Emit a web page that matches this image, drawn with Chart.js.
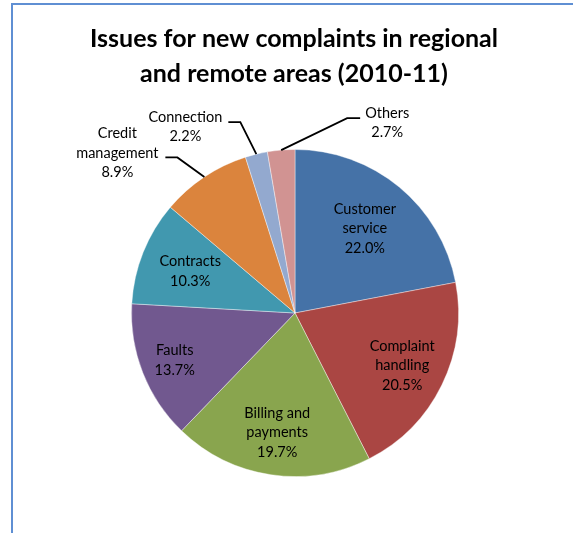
<!DOCTYPE html>
<html>
<head>
<meta charset="utf-8">
<script src="https://cdn.jsdelivr.net/npm/chart.js@4"></script>
<style>
  html, body { margin: 0; padding: 0; background: #fff; overflow: hidden; }
  #wrap { position: relative; width: 573px; height: 533px; }
  #frame { position: absolute; left: 11px; top: 3px; width: 700px; height: 700px;
           border-left: 2px solid #5F8FD3; border-top: 2px solid #5F8FD3; pointer-events: none; }
  canvas { position: absolute; left: 0; top: 0; }
</style>
</head>
<body>
<div id="wrap">
  <canvas id="c" width="573" height="533"></canvas>
  <div id="frame"></div>
</div>
<script>
// ---- data ----
const titleLines = ["Issues for new complaints in regional", "and remote areas (2010-11)"];
const categories = [
  ["Customer", "service"],
  ["Complaint", "handling"],
  ["Billing and", "payments"],
  ["Faults"],
  ["Contracts"],
  ["Credit", "management"],
  ["Connection"],
  ["Others"]
];
const values = [22.0, 20.5, 19.7, 13.7, 10.3, 8.9, 2.2, 2.7];
const colors = ["#4572A7", "#AA4643", "#89A54E", "#71588F", "#4198AF", "#DB843D", "#93A9CF", "#D19392"];

// ---- label layout (styling only) ----
const labelFont = "14.5px Lato, 'Open Sans', sans-serif";
const labelLineHeight = 19.5;
// inside labels: radial factor of outer radius
const insideFactor = {0: 0.67, 1: 0.73, 2: 0.74, 3: 0.79, 4: 0.69};
// outside labels: offsets relative to slice edge point at mid angle
const outside = {
  5: {elbow: [-27, -19.5], end: [-39, -19.5], text: [-87, -43.5]},
  6: {elbow: [-16, -32], end: [-28, -32], text: [-71, -37]},
  7: {elbow: [66, -32], end: [79, -32], text: [106, -37]}
};

const labelPlugin = {
  id: 'sliceLabels',
  afterDatasetsDraw(chart) {
    const ctx = chart.ctx;
    const meta = chart.getDatasetMeta(0);
    const ds = chart.data.datasets[0];
    ctx.save();
    ctx.font = labelFont;
    ctx.fillStyle = '#000';
    ctx.textAlign = 'center';
    ctx.textBaseline = 'middle';
    meta.data.forEach((arc, i) => {
      const p = arc.getProps(['x', 'y', 'startAngle', 'endAngle', 'outerRadius'], true);
      const mid = (p.startAngle + p.endAngle) / 2;
      const lines = chart.data.labels[i].concat([ds.data[i].toFixed(1) + '%']);
      if (outside[i]) {
        const o = outside[i];
        const ex = p.x + Math.cos(mid) * p.outerRadius;
        const ey = p.y + Math.sin(mid) * p.outerRadius;
        ctx.beginPath();
        ctx.strokeStyle = '#000';
        ctx.lineWidth = 1.8;
        ctx.moveTo(ex, ey);
        ctx.lineTo(ex + o.elbow[0], ey + o.elbow[1]);
        ctx.lineTo(ex + o.end[0], ey + o.end[1]);
        ctx.stroke();
        const tx = ex + o.text[0];
        const ty = ey + o.text[1];
        lines.forEach((ln, k) => ctx.fillText(ln, tx, ty + k * labelLineHeight));
      } else {
        const f = insideFactor[i] || 0.7;
        const cx = p.x + Math.cos(mid) * p.outerRadius * f;
        const cy = p.y + Math.sin(mid) * p.outerRadius * f;
        const top = cy - (lines.length - 1) * labelLineHeight / 2;
        lines.forEach((ln, k) => ctx.fillText(ln, cx, top + k * labelLineHeight));
      }
    });
    ctx.restore();
  }
};

const titlePlugin = {
  id: 'titleText',
  afterDraw(chart) {
    const ctx = chart.ctx;
    ctx.save();
    ctx.font = "bold 25px Lato, 'Open Sans', sans-serif";
    ctx.fillStyle = '#000';
    ctx.textAlign = 'center';
    ctx.textBaseline = 'alphabetic';
    ctx.fillText(titleLines[0], 294, 47);
    ctx.fillText(titleLines[1], 294, 82);
    ctx.restore();
  }
};

new Chart(document.getElementById('c'), {
  type: 'pie',
  data: {
    labels: categories,
    datasets: [{
      data: values,
      backgroundColor: colors,
      borderColor: 'rgba(255,255,255,0.4)',
      borderWidth: 1
    }]
  },
  options: {
    responsive: false,
    animation: false,
    devicePixelRatio: 1,
    rotation: 0,
    layout: { padding: { left: 131, right: 114, top: 149, bottom: 56 } },
    plugins: {
      legend: { display: false },
      title: { display: false },
      tooltip: { enabled: false }
    }
  },
  plugins: [labelPlugin, titlePlugin]
});
</script>
</body>
</html>
